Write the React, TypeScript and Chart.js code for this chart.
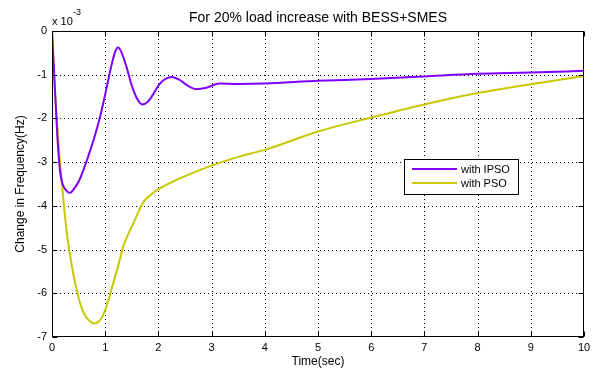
import React, { useEffect, useRef } from "react";
import { Chart, registerables } from "chart.js";

Chart.register(...registerables);

const timeIPSO = [0, 0.05, 0.1, 0.15, 0.2, 0.27, 0.34, 0.42, 0.5, 0.6, 0.7, 0.8, 0.9, 1.0, 1.1, 1.18, 1.24, 1.31, 1.4, 1.5, 1.6, 1.7, 1.8, 1.9, 2.0, 2.1, 2.25, 2.4, 2.55, 2.7, 2.9, 3.15, 3.5, 4, 5, 6, 7, 8, 9, 10];
const valIPSO = [0, -1.2, -2.4, -3.2, -3.5, -3.65, -3.7, -3.6, -3.45, -3.15, -2.8, -2.42, -1.98, -1.45, -0.88, -0.5, -0.38, -0.5, -0.82, -1.25, -1.55, -1.68, -1.62, -1.45, -1.25, -1.12, -1.05, -1.12, -1.25, -1.33, -1.3, -1.2, -1.21, -1.2, -1.14, -1.1, -1.04, -0.98, -0.95, -0.91];

const timePSO = [0, 0.03, 0.09, 0.18, 0.28, 0.4, 0.5, 0.6, 0.7, 0.8, 0.9, 0.96, 1.05, 1.15, 1.25, 1.34, 1.45, 1.53, 1.62, 1.72, 1.85, 2.03, 2.3, 2.6, 3, 3.5, 4, 5, 6, 7, 8, 9, 10];
const valPSO = [0, -0.8, -2.0, -3.4, -4.63, -5.55, -6.1, -6.46, -6.63, -6.69, -6.62, -6.5, -6.2, -5.77, -5.35, -4.93, -4.6, -4.4, -4.15, -3.91, -3.75, -3.6, -3.43, -3.27, -3.08, -2.88, -2.72, -2.3, -1.98, -1.68, -1.42, -1.22, -1.03];

const seriesLabels = ["with IPSO", "with PSO"];
const seriesColors = ["#8000ff", "#c8c800"];
const xTicks = [0, 1, 2, 3, 4, 5, 6, 7, 8, 9, 10];
const yTicks = [0, -1, -2, -3, -4, -5, -6, -7];

const titleText = "For 20% load increase with BESS+SMES";
const xLabel = "Time(sec)";
const yLabel = "Change in Frequency(Hz)";

const FONT = "'Liberation Sans', Arial, sans-serif";

const matlabPlugin = {
  id: "matlabStyle",
  beforeDatasetsDraw(chart: any) {
    const { ctx, chartArea: a, scales } = chart;
    const xs = scales.x, ys = scales.y;
    ctx.save();
    ctx.strokeStyle = "#000";
    ctx.lineWidth = 1;
    ctx.setLineDash([1, 3]);
    xTicks.forEach((t) => {
      if (t === xTicks[0] || t === xTicks[xTicks.length - 1]) return;
      const px = Math.round(xs.getPixelForValue(t)) + 0.5;
      ctx.beginPath();
      ctx.moveTo(px, a.top);
      ctx.lineTo(px, a.bottom);
      ctx.stroke();
    });
    yTicks.forEach((v) => {
      if (v === 0 || v === -7) return;
      const py = Math.round(ys.getPixelForValue(v)) + 0.5;
      ctx.beginPath();
      ctx.moveTo(a.left, py);
      ctx.lineTo(a.right, py);
      ctx.stroke();
    });
    ctx.restore();
  },
  afterDatasetsDraw(chart: any) {
    const { ctx, chartArea: a, scales } = chart;
    const xs = scales.x, ys = scales.y;
    ctx.save();
    ctx.strokeStyle = "#000";
    ctx.lineWidth = 1;
    ctx.setLineDash([]);
    const L = Math.round(a.left) + 0.5, R = Math.round(a.right) - 0.5;
    const T = Math.round(a.top) + 0.5, B = Math.round(a.bottom) - 0.5;
    ctx.strokeRect(L, T, R - L, B - T);
    const tl = 5;
    xTicks.forEach((t) => {
      const px = Math.round(xs.getPixelForValue(t)) + 0.5;
      ctx.beginPath();
      ctx.moveTo(px, B); ctx.lineTo(px, B - tl);
      ctx.moveTo(px, T); ctx.lineTo(px, T + tl);
      ctx.stroke();
    });
    yTicks.forEach((v) => {
      const py = Math.round(ys.getPixelForValue(v)) + 0.5;
      ctx.beginPath();
      ctx.moveTo(L, py); ctx.lineTo(L + tl, py);
      ctx.moveTo(R, py); ctx.lineTo(R - tl, py);
      ctx.stroke();
    });

    // title
    ctx.fillStyle = "#000";
    ctx.font = `14px ${FONT}`;
    ctx.textAlign = "center";
    ctx.textBaseline = "middle";
    ctx.fillText(titleText, (a.left + a.right) / 2, 18);

    // x label
    ctx.font = `12px ${FONT}`;
    ctx.fillText(xLabel, (a.left + a.right) / 2, 362);

    // y label
    ctx.save();
    ctx.translate(21, (a.top + a.bottom) / 2);
    ctx.rotate(-Math.PI / 2);
    ctx.fillText(yLabel, 0, 0);
    ctx.restore();

    // exponent
    ctx.textAlign = "left";
    ctx.textBaseline = "alphabetic";
    ctx.font = `11px ${FONT}`;
    ctx.fillText("x 10", 52, 25);
    ctx.font = `9px ${FONT}`;
    ctx.fillText("-3", 73, 15);

    // legend
    const lx = 404.5, ly = 159.5, lw = 114, lh = 35;
    ctx.fillStyle = "#fff";
    ctx.fillRect(lx, ly, lw, lh);
    ctx.strokeStyle = "#000";
    ctx.strokeRect(lx, ly, lw, lh);
    ctx.font = `11px ${FONT}`;
    ctx.textBaseline = "middle";
    seriesLabels.forEach((lab, i) => {
      const yy = 169 + i * 14;
      ctx.strokeStyle = seriesColors[i];
      ctx.lineWidth = 2;
      ctx.beginPath();
      ctx.moveTo(412, yy);
      ctx.lineTo(457, yy);
      ctx.stroke();
      ctx.fillStyle = "#000";
      ctx.fillText(lab, 461, yy + 0.5);
    });
    ctx.restore();
  },
};

export default function App() {
  const ref = useRef<HTMLCanvasElement>(null);
  useEffect(() => {
    if (!ref.current) return;
    const chart = new Chart(ref.current, {
      type: "line",
      data: {
        datasets: [
          {
            label: seriesLabels[0],
            data: timeIPSO.map((t, i) => ({ x: t, y: valIPSO[i] })),
            borderColor: seriesColors[0],
            borderWidth: 2,
            pointRadius: 0,
            fill: false,
            cubicInterpolationMode: "monotone",
          },
          {
            label: seriesLabels[1],
            data: timePSO.map((t, i) => ({ x: t, y: valPSO[i] })),
            borderColor: seriesColors[1],
            borderWidth: 2,
            pointRadius: 0,
            fill: false,
            cubicInterpolationMode: "monotone",
          },
        ],
      },
      options: {
        responsive: false,
        animation: false,
        layout: { padding: { left: 0, right: 14, top: 31, bottom: 0 } },
        plugins: { legend: { display: false }, title: { display: false }, tooltip: { enabled: false } },
        scales: {
          x: {
            type: "linear",
            min: 0,
            max: 10,
            afterFit: (s: any) => { s.height = 34; },
            afterBuildTicks: (s: any) => { s.ticks = xTicks.map((v) => ({ value: v })); },
            grid: { display: true, drawOnChartArea: false, drawTicks: false, color: "rgba(0,0,0,0)" },
            border: { display: false },
            ticks: { color: "#000", font: { family: FONT, size: 11 }, padding: 4, maxRotation: 0, autoSkip: false },
          },
          y: {
            type: "linear",
            min: -7,
            max: 0,
            afterFit: (s: any) => { s.width = 52; },
            afterBuildTicks: (s: any) => { s.ticks = yTicks.slice().reverse().map((v) => ({ value: v })); },
            grid: { display: true, drawOnChartArea: false, drawTicks: false, color: "rgba(0,0,0,0)" },
            border: { display: false },
            ticks: { color: "#000", font: { family: FONT, size: 11 }, padding: 5, autoSkip: false },
          },
        },
      },
      plugins: [matlabPlugin],
    });
    return () => chart.destroy();
  }, []);
  return (
    <div style={{ position: "absolute", left: 0, top: 0, width: 598, height: 371, background: "#fff" }}>
      <canvas ref={ref} width={598} height={371} />
    </div>
  );
}
